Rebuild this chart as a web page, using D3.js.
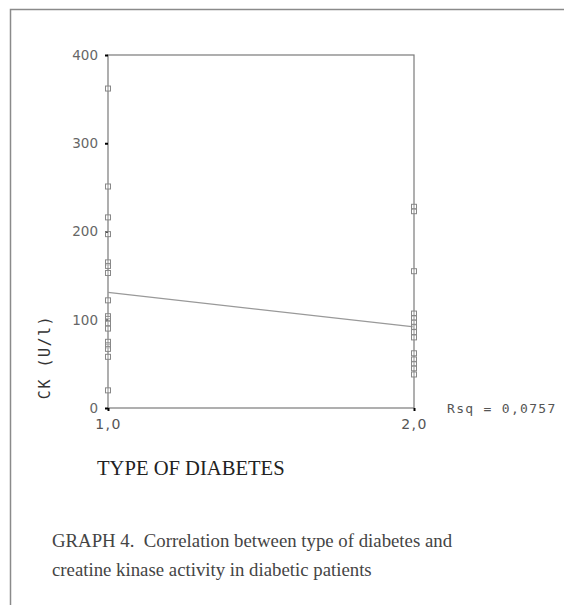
<!DOCTYPE html>
<html><head><meta charset="utf-8">
<script src="https://cdn.jsdelivr.net/npm/d3@7"></script>
<style>body{margin:0;background:#fff}svg{display:block}</style>
</head><body>
<script>
const type1Values = [362,251,216,197,165,161,153,122,104,101,96,90,75,71,67,58,20];
const type2Values = [228,223,155,107,102,97,92,86,80,62,55,50,45,38];
const xTickValues = [1,2];
const xTickLabels = ["1,0","2,0"];
const yTickValues = [0,100,200,300,400];
const fitX = [1,2];
const fitY = [131,92];
const rsqLabel = "Rsq = 0,0757";

const W=564,H=605;
const svg=d3.select("body").append("svg").attr("width",W).attr("height",H);
svg.append("path").attr("d","M10.5,605 L10.5,9.5 L564,9.5").attr("fill","none").attr("stroke","#8a8a8a").attr("stroke-width",1.5);

const x=d3.scaleLinear().domain([1,2]).range([108,414]);
const y=d3.scaleLinear().domain([0,400]).range([408,55]);

svg.append("rect").attr("x",x(1)).attr("y",y(400)).attr("width",x(2)-x(1)).attr("height",y(0)-y(400))
  .attr("fill","none").attr("stroke","#7a7a7a").attr("stroke-width",1.2);

const yAxis=d3.axisLeft(y).tickValues(yTickValues).tickSize(3).tickPadding(7).tickFormat(d3.format("d"));
const gy=svg.append("g").attr("transform",`translate(${x(1)},0)`).call(yAxis);
gy.select(".domain").remove();
gy.selectAll("line").attr("stroke","#000").attr("stroke-width",2);
gy.selectAll("text").attr("font-family","DejaVu Sans").attr("font-size",13.5).attr("fill","#666");

const xAxis=d3.axisBottom(x).tickValues(xTickValues).tickSize(3).tickPadding(8).tickFormat((d,i)=>xTickLabels[i]);
const gx=svg.append("g").attr("transform",`translate(0,${y(0)})`).call(xAxis);
gx.select(".domain").remove();
gx.selectAll("line").attr("stroke","#000").attr("stroke-width",2);
gx.selectAll("text").attr("font-family","DejaVu Sans").attr("font-size",14).attr("letter-spacing",1.5).attr("fill","#555");

svg.append("line").attr("x1",x(fitX[0])).attr("y1",y(fitY[0])).attr("x2",x(fitX[1])).attr("y2",y(fitY[1]))
  .attr("stroke","#999").attr("stroke-width",1.2);

const pts=[...type1Values.map(v=>({t:1,v})),...type2Values.map(v=>({t:2,v}))];
svg.append("g").selectAll("rect").data(pts).join("rect")
  .attr("x",d=>x(d.t)-2.5).attr("y",d=>y(d.v)-2.5).attr("width",5).attr("height",5)
  .attr("fill","#fff").attr("fill-opacity",0.3).attr("stroke","#888").attr("stroke-width",1);

svg.append("text").attr("transform",`translate(50,${357}) rotate(-90)`).attr("text-anchor","middle")
  .attr("font-family","DejaVu Sans Mono").attr("font-size",15).attr("letter-spacing",1.5).attr("fill","#333").text("CK (U/l)");
svg.append("text").attr("x",447).attr("y",413).attr("font-family","DejaVu Sans Mono").attr("font-size",13)
  .attr("letter-spacing",1.3).attr("fill","#555").text(rsqLabel);
svg.append("text").attr("x",97).attr("y",475).attr("font-family","Liberation Serif").attr("font-size",20.6)
  .attr("fill","#222").text("TYPE OF DIABETES");
svg.append("text").attr("x",52).attr("y",547).attr("font-family","Liberation Serif").attr("font-size",18.8)
  .attr("fill","#444").text("GRAPH 4.  Correlation between type of diabetes and").attr("xml:space","preserve").style("white-space","pre");
svg.append("text").attr("x",52).attr("y",576).attr("font-family","Liberation Serif").attr("font-size",18.8)
  .attr("fill","#444").text("creatine kinase activity in diabetic patients");
</script>
</body></html>
